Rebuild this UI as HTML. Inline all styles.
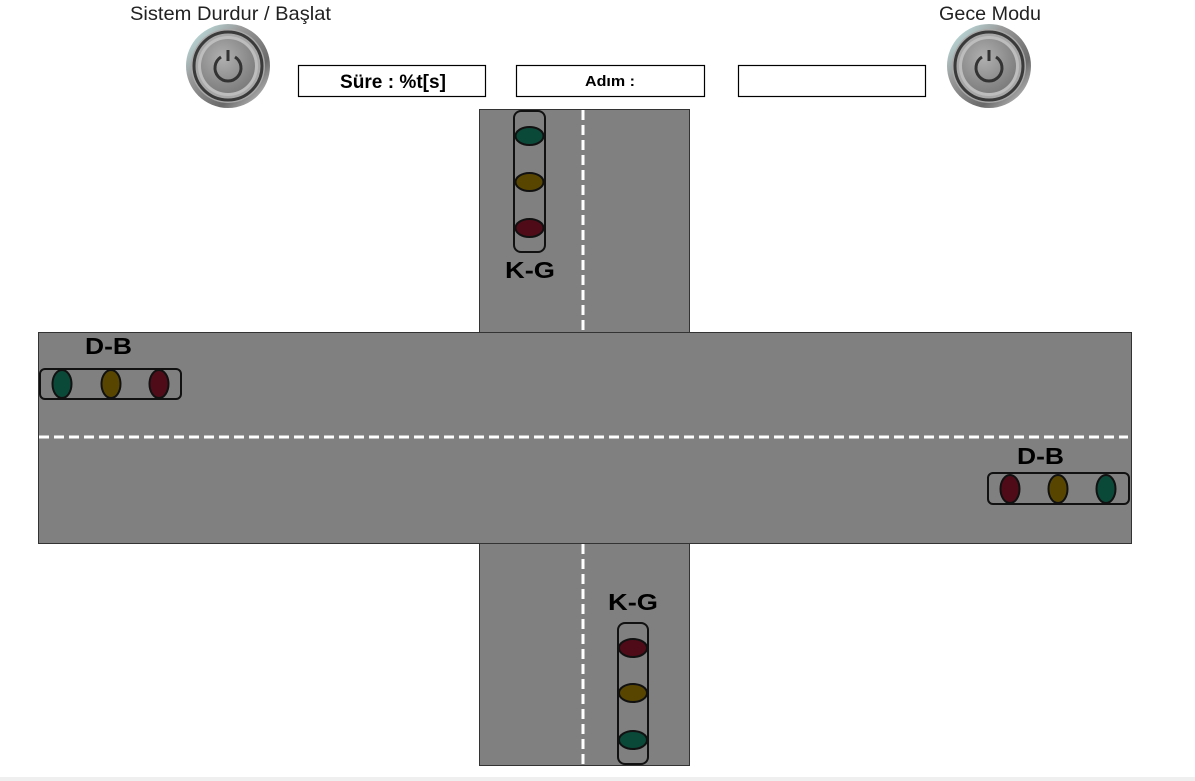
<!DOCTYPE html>
<html><head><meta charset="utf-8"><style>
html,body{margin:0;padding:0;background:#fff;width:1195px;height:781px;overflow:hidden}
svg{display:block}
text{font-family:"Liberation Sans",Arial,sans-serif}
</style></head><body>
<svg width="1195" height="781" viewBox="0 0 1195 781" xmlns="http://www.w3.org/2000/svg">
<defs>
<linearGradient id="btnRim" x1="0" y1="0" x2="1" y2="1">
<stop offset="0" stop-color="#c8f4f4"/><stop offset="0.35" stop-color="#9a9a9a"/><stop offset="0.7" stop-color="#6a6a6a"/><stop offset="1" stop-color="#dcdcdc"/>
</linearGradient>
<radialGradient id="btnInner" cx="40%" cy="35%" r="70%">
<stop offset="0" stop-color="#b0b0b0"/><stop offset="1" stop-color="#7a7a7a"/>
</radialGradient>
<g id="btn">
<circle r="42" fill="url(#btnRim)"/>
<circle r="37" fill="#a8a8a8"/>
<circle r="34" fill="none" stroke="#3a3a3a" stroke-width="3"/>
<circle r="30" fill="#bdbdbd"/>
<circle r="27" fill="url(#btnInner)"/>
<path d="M -7 -9 A 13 13 0 1 0 7 -9" fill="none" stroke="#333" stroke-width="3"/>
<line x1="0" y1="-16" x2="0" y2="-5" stroke="#333" stroke-width="3"/>
</g>
</defs>

<text x="130" y="20" font-size="19.5" textLength="201" lengthAdjust="spacingAndGlyphs" fill="#222">Sistem Durdur / Başlat</text>
<text x="939" y="20" font-size="19.5" textLength="102" lengthAdjust="spacingAndGlyphs" fill="#222">Gece Modu</text>
<use href="#btn" x="228" y="66"/>
<use href="#btn" x="989" y="66"/>

<rect x="298.5" y="65.5" width="187" height="31" fill="#fff" stroke="#000" stroke-width="1.2"/>
<text x="340" y="88" font-size="19" font-weight="bold" textLength="106" lengthAdjust="spacingAndGlyphs">Süre : %t[s]</text>
<rect x="516.5" y="65.5" width="188" height="31" fill="#fff" stroke="#000" stroke-width="1.2"/>
<text x="585" y="86" font-size="15" font-weight="bold" textLength="50" lengthAdjust="spacingAndGlyphs">Adım :</text>
<rect x="738.5" y="65.5" width="187" height="31" fill="#fff" stroke="#000" stroke-width="1.2"/>

<rect x="479.5" y="109.5" width="210" height="224" fill="#808080" stroke="#333" stroke-width="1"/>
<rect x="479.5" y="542.5" width="210" height="223" fill="#808080" stroke="#333" stroke-width="1"/>
<rect x="38.5" y="332.5" width="1093" height="211" fill="#808080" stroke="#333" stroke-width="1"/>
<line x1="583" y1="110" x2="583" y2="332" stroke="#fff" stroke-width="3" stroke-dasharray="10,5"/>
<line x1="583" y1="544" x2="583" y2="765" stroke="#fff" stroke-width="3" stroke-dasharray="10,5"/>
<line x1="39" y1="437" x2="1128" y2="437" stroke="#fff" stroke-width="3" stroke-dasharray="10,5"/>

<rect x="514" y="111" width="31" height="141" rx="7" fill="none" stroke="#111" stroke-width="2"/>
<ellipse cx="529.5" cy="136" rx="14" ry="9" fill="#0a4838" stroke="#111" stroke-width="2"/>
<ellipse cx="529.5" cy="182" rx="14" ry="9" fill="#584600" stroke="#111" stroke-width="2"/>
<ellipse cx="529.5" cy="228" rx="14" ry="9" fill="#500b18" stroke="#111" stroke-width="2"/>
<text x="505" y="278" font-size="23" font-weight="bold" textLength="50" lengthAdjust="spacingAndGlyphs">K-G</text>

<rect x="40" y="369" width="141" height="30" rx="5" fill="none" stroke="#111" stroke-width="2"/>
<ellipse cx="62" cy="384" rx="9.5" ry="14" fill="#0a4838" stroke="#111" stroke-width="2"/>
<ellipse cx="111" cy="384" rx="9.5" ry="14" fill="#584600" stroke="#111" stroke-width="2"/>
<ellipse cx="159" cy="384" rx="9.5" ry="14" fill="#500b18" stroke="#111" stroke-width="2"/>
<text x="85" y="354" font-size="23" font-weight="bold" textLength="47" lengthAdjust="spacingAndGlyphs">D-B</text>

<rect x="988" y="473" width="141" height="31" rx="5" fill="none" stroke="#111" stroke-width="2"/>
<ellipse cx="1010" cy="489" rx="9.5" ry="14" fill="#500b18" stroke="#111" stroke-width="2"/>
<ellipse cx="1058" cy="489" rx="9.5" ry="14" fill="#584600" stroke="#111" stroke-width="2"/>
<ellipse cx="1106" cy="489" rx="9.5" ry="14" fill="#0a4838" stroke="#111" stroke-width="2"/>
<text x="1017" y="464" font-size="23" font-weight="bold" textLength="47" lengthAdjust="spacingAndGlyphs">D-B</text>

<rect x="618" y="623" width="30" height="141" rx="7" fill="none" stroke="#111" stroke-width="2"/>
<ellipse cx="633" cy="648" rx="14" ry="9" fill="#500b18" stroke="#111" stroke-width="2"/>
<ellipse cx="633" cy="693" rx="14" ry="9" fill="#584600" stroke="#111" stroke-width="2"/>
<ellipse cx="633" cy="740" rx="14" ry="9" fill="#0a4838" stroke="#111" stroke-width="2"/>
<text x="608" y="610" font-size="23" font-weight="bold" textLength="50" lengthAdjust="spacingAndGlyphs">K-G</text>

<rect x="0" y="777" width="1195" height="4" fill="#efefef"/>
</svg>
</body></html>
